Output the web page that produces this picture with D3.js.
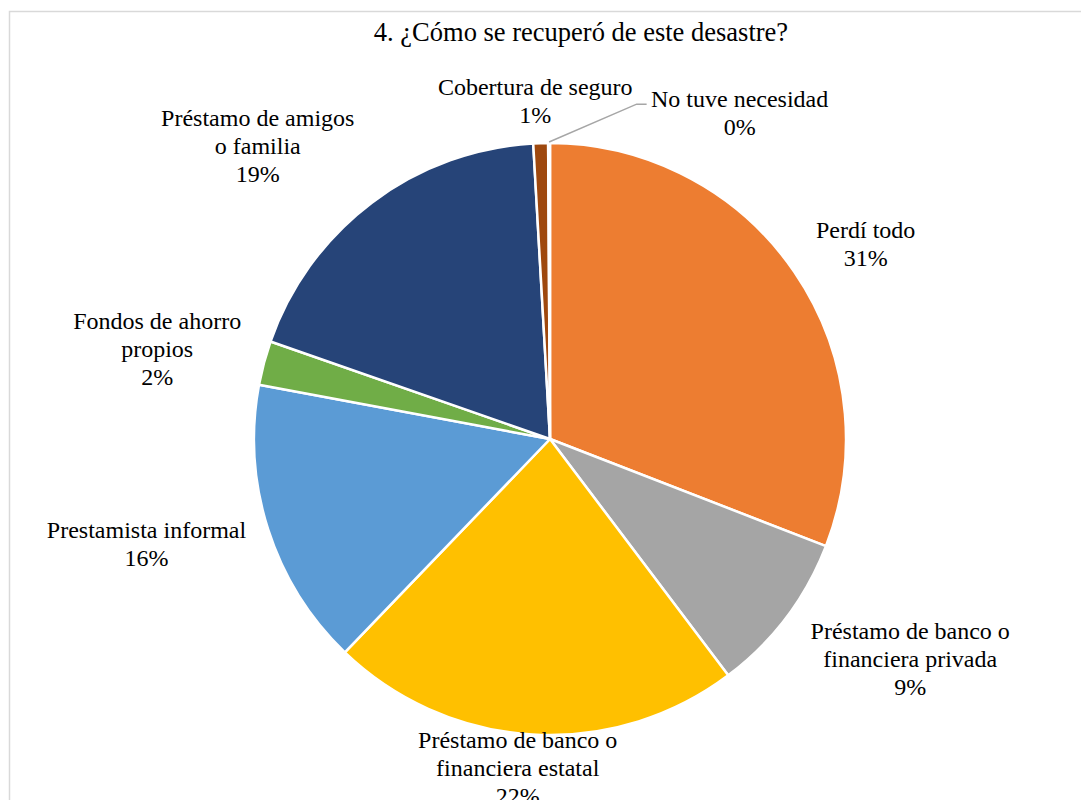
<!DOCTYPE html>
<html lang="es">
<head>
<meta charset="UTF-8">
<title>Pie</title>
<script src="https://cdn.jsdelivr.net/npm/d3@7"></script>
<style>
    body { margin: 0; background: #fff; }
</style>
</head>
<body>
<script>
// data
const categories = [
    "Perdí todo",
    "Préstamo de banco o|financiera privada",
    "Préstamo de banco o|financiera estatal",
    "Prestamista informal",
    "Fondos de ahorro|propios",
    "Préstamo de amigos|o familia",
    "Cobertura de seguro",
    "No tuve necesidad"
];
const values = [30.8, 8.8, 22.4, 15.7, 2.4, 18.7, 0.8, 0.1];
const colors = ["#ED7D31", "#A5A5A5", "#FFC000", "#5B9BD5", "#70AD47", "#264478", "#9E480E", "#636363"];
const title = "4. ¿Cómo se recuperó de este desastre?";

// label layout: angle (deg, clockwise from top) and distance from centre
const labelAngle = [58.3, 121.4, 185.6, 255.4, 282.9, 315.1, 357.5, 30.2];
const labelDist  = [371, 422, 331, 417, 403, 414, 338, 377];

const font = "'Liberation Serif', 'DejaVu Serif', serif";
const w = 1081, h = 800;
const cx = 550, cy = 439, r = 296;
const lineH = 28;

const svg = d3.select("body").append("svg")
    .attr("width", w)
    .attr("height", h);

svg.append("rect")
    .attr("x", 9.5).attr("y", 11.5)
    .attr("width", w + 20).attr("height", h + 20)
    .attr("fill", "#fff")
    .attr("stroke", "#d9d9d9")
    .attr("stroke-width", 1.5);

svg.append("text")
    .attr("x", 581).attr("y", 41)
    .attr("text-anchor", "middle")
    .attr("font-family", font)
    .attr("font-size", 26.5)
    .text(title);

const total = d3.sum(values);
const data = categories.map((c, i) => ({ name: c, value: values[i], color: colors[i], i: i }));

const pie = d3.pie().value(d => d.value).sort(null);
const arc = d3.arc().innerRadius(0).outerRadius(r);

const g = svg.append("g").attr("transform", "translate(" + cx + "," + cy + ")");

g.selectAll("path")
    .data(pie(data))
    .enter()
    .append("path")
    .attr("d", arc)
    .attr("fill", d => d.data.color)
    .attr("stroke", "#fff")
    .attr("stroke-width", 2.5)
    .attr("stroke-linejoin", "round");

// leader line for the tiny slice
const arcs = pie(data);
const last = arcs[arcs.length - 1];
const midA = (last.startAngle + last.endAngle) / 2;
const p0 = [Math.sin(midA) * (r + 1), -Math.cos(midA) * (r + 1)];
const la = labelAngle[7] * Math.PI / 180;
const lx = Math.sin(la) * labelDist[7], ly = -Math.cos(la) * labelDist[7];
g.append("path")
    .attr("d", d3.line()([p0, [lx - 103, ly - 9], [lx - 93, ly - 9]]))
    .attr("fill", "none")
    .attr("stroke", "#a6a6a6")
    .attr("stroke-width", 1.5);

const labels = g.selectAll("g.lab")
    .data(data)
    .enter()
    .append("g")
    .attr("class", "lab")
    .attr("transform", d => {
        const a = labelAngle[d.i] * Math.PI / 180;
        return "translate(" + (Math.sin(a) * labelDist[d.i]) + "," + (-Math.cos(a) * labelDist[d.i]) + ")";
    });

labels.each(function(d) {
    const lines = d.name.split("|").concat([Math.round(d.value / total * 100) + "%"]);
    const top = -(lines.length - 1) * lineH / 2 + 8;
    const t = d3.select(this).append("text")
        .attr("text-anchor", "middle")
        .attr("font-family", font)
        .attr("font-size", 24)
        .attr("fill", "#000");
    lines.forEach((s, k) => {
        t.append("tspan").attr("x", 0).attr("y", top + k * lineH).text(s);
    });
});
</script>
</body>
</html>
